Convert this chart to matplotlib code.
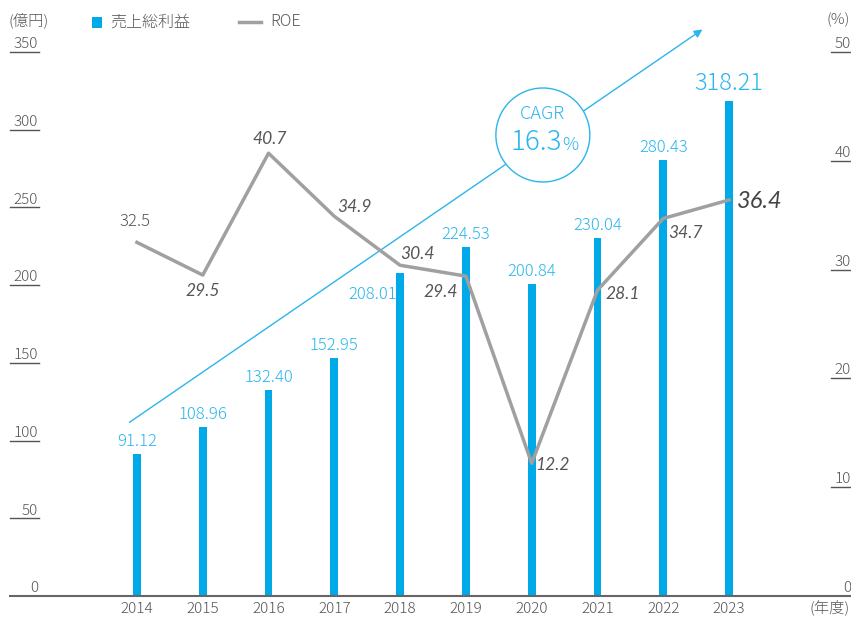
import matplotlib.pyplot as plt
from matplotlib.patches import Ellipse
from matplotlib.transforms import blended_transform_factory

plt.rcParams['font.family'] = ['Noto Sans CJK JP', 'DejaVu Sans']
plt.rcParams['font.weight'] = 'light'

years = [2014, 2015, 2016, 2017, 2018, 2019, 2020, 2021, 2022, 2023]
gross_profit = [91.12, 108.96, 132.40, 152.95, 208.01, 224.53, 200.84, 230.04, 280.43, 318.21]
roe = [32.5, 29.5, 40.7, 34.9, 30.4, 29.4, 12.2, 28.1, 34.7, 36.4]
left_ticks = [50, 100, 150, 200, 250, 300, 350]
right_ticks = [10, 20, 30, 40, 50]

# label offsets in pixels (dx, dy, ha, va)
roe_offsets = [(-2, 12, 'center', 'bottom'), (0, -8, 'center', 'top'), (1, 6, 'center', 'bottom'),
               (3, 1, 'left', 'bottom'), (0, 3, 'left', 'bottom'), (-8, -8, 'right', 'top'),
               (4, -2, 'left', 'center'), (8, -4, 'left', 'center'), (5, -15, 'left', 'center'),
               (8, -2, 'left', 'center')]

BLUE = '#00a9e8'
BLUE_TXT = '#2bb5ec'
GRAY = '#a0a0a0'
TXT = '#555555'
ITAL = ['Lato', 'DejaVu Sans']

fig = plt.figure(figsize=(8.51, 6.17), dpi=100)
ax = fig.add_axes([10 / 851, 21 / 617, 841 / 851, 544 / 617])
ax.set_xlim(2012.07, 2024.854)
ax.set_ylim(0, 350)
for s in ['top', 'right', 'left']:
    ax.spines[s].set_visible(False)
ax.spines['bottom'].set_color('#666666')
ax.spines['bottom'].set_linewidth(1.5)
ax.set_yticks([])
ax.set_xticks(years)
ax.set_xticklabels([str(y) for y in years], color=TXT, fontsize=11)
ax.tick_params(axis='x', length=0, pad=4)

ax.bar(years, gross_profit, width=0.12, color=BLUE, zorder=2)
for i, (x, v) in enumerate(zip(years, gross_profit)):
    if x == 2023:
        ax.annotate(f'{v:.2f}', (x, v), xytext=(0, 5), textcoords='offset pixels',
                    ha='center', va='bottom', color=BLUE_TXT, fontsize=17)
    elif x == 2018:
        ax.annotate(f'{v:.2f}', (x, v), xytext=(-27, -22), textcoords='offset pixels',
                    ha='center', va='center', color=BLUE_TXT, fontsize=12)
    else:
        ax.annotate(f'{v:.2f}', (x, v), xytext=(0, 4), textcoords='offset pixels',
                    ha='center', va='bottom', color=BLUE_TXT, fontsize=12)

# left axis tick labels with short underlines
tl = blended_transform_factory(ax.transAxes, ax.transData)
for t in left_ticks:
    ax.plot([0, 29 / 841], [t, t], color='#555555', lw=1, transform=tl, clip_on=False)
    ax.text(28 / 841, t + 0.5, str(t), transform=tl, ha='right', va='bottom',
            color=TXT, fontsize=11)
ax.text(28 / 841, 0.5, '0', transform=tl, ha='right', va='bottom', color=TXT, fontsize=11)

# CAGR arrow and circle
ax.annotate('', xy=(2022.63, 365.5), xytext=(2013.85, 110.7),
            arrowprops=dict(arrowstyle='-|>', color=BLUE_TXT, lw=1, mutation_scale=12),
            annotation_clip=False, zorder=1)
ax.add_patch(Ellipse((2020.17, 296.6), 94 / 65.8, 94 / 1.554, facecolor='white',
                     edgecolor=BLUE_TXT, lw=1, zorder=3))
ax.text(2020.17, 310, 'CAGR', ha='center', va='center', color=BLUE_TXT, fontsize=13, zorder=4)
ax.text(2020.46, 292, '16.3', ha='right', va='center', color=BLUE_TXT, fontsize=20, zorder=4)
ax.text(2020.47, 290, '%', ha='left', va='center', color=BLUE_TXT, fontsize=13, zorder=4)

# ROE line on the right axis
ax2 = ax.twinx()
ax2.set_position(ax.get_position())
ax2.set_ylim(0, 50)
for s in ax2.spines.values():
    s.set_visible(False)
ax2.set_yticks([])
ax2.plot(years, roe, color=GRAY, lw=2.5, zorder=3)
for i, (x, v) in enumerate(zip(years, roe)):
    dx, dy, ha, va = roe_offsets[i]
    if x == 2023:
        ax2.annotate(f'{v}', (x, v), xytext=(dx, dy), textcoords='offset pixels', ha=ha, va=va,
                     color='#444444', fontsize=17, style='italic', weight='normal', family=ITAL)
    elif i == 0:
        ax2.annotate(f'{v}', (x, v), xytext=(dx, dy), textcoords='offset pixels', ha=ha, va=va,
                     color=TXT, fontsize=12)
    else:
        ax2.annotate(f'{v}', (x, v), xytext=(dx, dy), textcoords='offset pixels', ha=ha, va=va,
                     color=TXT, fontsize=12.5, style='italic', weight='normal', family=ITAL)

tr = blended_transform_factory(ax2.transAxes, ax2.transData)
for t in right_ticks:
    ax2.plot([821 / 841, 1], [t, t], color='#555555', lw=1, transform=tr, clip_on=False)
    ax2.text(1, t + 0.1, str(t), transform=tr, ha='right', va='bottom',
             color=TXT, fontsize=11)
ax2.text(1, 0.1, '0', transform=tr, ha='right', va='bottom', color=TXT, fontsize=11)

# unit labels and legend
fig.text(8 / 851, 1 - 20 / 617, '(億円)', ha='left', va='center', color=TXT, fontsize=11)
fig.text(850 / 851, 1 - 20 / 617, '(%)', ha='right', va='center', color=TXT, fontsize=11)
fig.text(850 / 851, 1 - 607 / 617, '(年度)', ha='right', va='center', color=TXT, fontsize=11)

fig.patches.append(plt.Rectangle((92 / 851, 1 - 28 / 617), 10 / 851, 11 / 617,
                                 facecolor=BLUE, transform=fig.transFigure, figure=fig))
fig.text(110 / 851, 1 - 22 / 617, '売上総利益', ha='left', va='center', color=TXT, fontsize=11.5)
fig.add_artist(plt.Line2D([239 / 851, 261 / 851], [1 - 22 / 617, 1 - 22 / 617],
                          color=GRAY, lw=2.5, transform=fig.transFigure))
fig.text(270 / 851, 1 - 22 / 617, 'ROE', ha='left', va='center', color=TXT, fontsize=11.5)

fig.savefig('out.png', dpi=100)
